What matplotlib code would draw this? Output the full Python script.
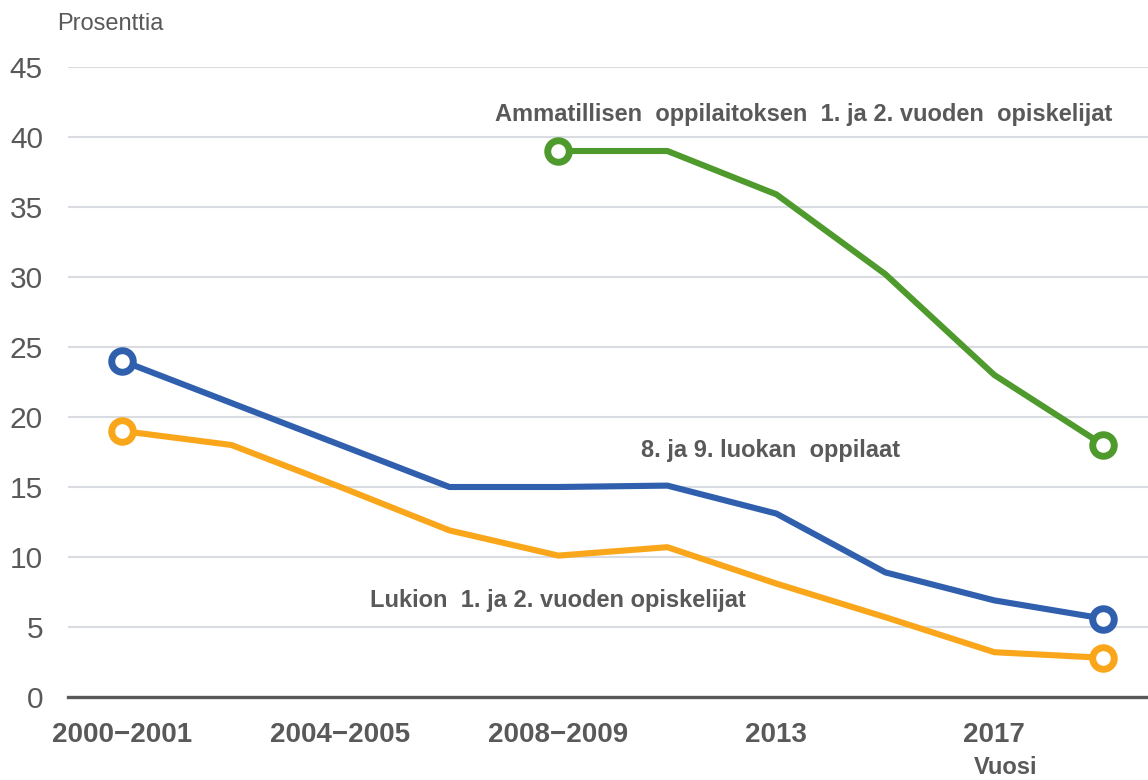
import matplotlib
matplotlib.use("Agg")
import matplotlib.pyplot as plt
import numpy as np

plt.rcParams['font.family'] = ['Liberation Sans', 'DejaVu Sans']

positions = list(range(10))
tick_positions = [0, 2, 4, 6, 8]
tick_labels = ["2000\u22122001", "2004\u22122005", "2008\u22122009", "2013", "2017"]

blue_vals = [24, 21, 18, 15, 15, 15.1, 13.1, 8.9, 6.9, 5.6]
orange_vals = [19, 18, 15, 11.9, 10.1, 10.7, 8.1, 5.7, 3.2, 2.8]
green_vals = [np.nan, np.nan, np.nan, np.nan, 39, 39, 35.9, 30.2, 23, 18]

BLUE = "#2F5FAD"
ORANGE = "#FAA61A"
GREEN = "#4E9A2D"
GRAY = "#595959"

fig = plt.figure(figsize=(11.48, 7.80), dpi=100)
ax = fig.add_axes([68/1148, (780-697)/780, 1 - 68/1148, (697-67)/780])

def draw(vals, color):
    x = np.array(positions, dtype=float)
    y = np.array(vals, dtype=float)
    ax.plot(x, y, color=color, lw=4.4, solid_joinstyle='round', solid_capstyle='round', zorder=3, clip_on=False)
    valid = np.where(~np.isnan(y))[0]
    ends = [valid[0], valid[-1]]
    ax.plot(x[ends], y[ends], 'o', ms=15.5, mfc='white', mec=color, mew=5.0, zorder=4, clip_on=False)

draw(orange_vals, ORANGE)
draw(blue_vals, BLUE)
draw(green_vals, GREEN)

ax.set_xlim(-0.5, 9.41)
ax.set_ylim(0, 45)
ax.set_yticks(range(0, 50, 5))
ax.set_xticks(tick_positions)
ax.set_xticklabels(tick_labels, fontsize=20, fontweight='bold', color=GRAY)
ax.tick_params(axis='y', length=0, pad=18, labelsize=21.5, labelcolor=GRAY)
ax.tick_params(axis='x', length=0, pad=18)
for lab in ax.get_yticklabels():
    lab.set_horizontalalignment('right')

ax.grid(axis='y', color='#D9DDE2', lw=1.5, zorder=0)
ax.set_axisbelow(True)
for s in ['top', 'right', 'left']:
    ax.spines[s].set_visible(False)
ax.spines['bottom'].set_color(GRAY)
ax.spines['bottom'].set_linewidth(2.4)
ax.spines['bottom'].set_zorder(5)

ann_kw = dict(fontsize=17, fontweight='bold', color=GRAY, ha='center', va='center')
ax.text(6.25, 41.6, "Ammatillisen  oppilaitoksen  1. ja 2. vuoden  opiskelijat", **ann_kw)
ax.text(5.95, 17.6, "8. ja 9. luokan  oppilaat", **ann_kw)
ax.text(4.0, 6.9, "Lukion  1. ja 2. vuoden opiskelijat", **ann_kw)

fig.text(57/1148, 1 - 24/780, "Prosenttia", fontsize=17, color=GRAY, ha='left', va='center')
fig.text(1006/1148, 1 - 768/780, "Vuosi", fontsize=17, fontweight='bold', color=GRAY, ha='center', va='center')

fig.savefig("out.png", dpi=100)
